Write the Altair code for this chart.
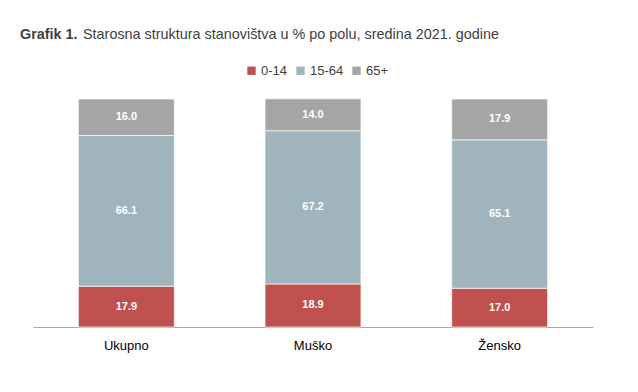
import altair as alt
import pandas as pd

categories = ["Ukupno", "Muško", "Žensko"]
groups = ["0-14", "15-64", "65+"]
v_0_14 = [17.9, 18.9, 17.0]
v_15_64 = [66.1, 67.2, 65.1]
v_65 = [16.0, 14.0, 17.9]

rows = []
for i, c in enumerate(categories):
    for g, vals, o in [("0-14", v_0_14, 0), ("15-64", v_15_64, 1), ("65+", v_65, 2)]:
        rows.append({"cat": c, "grp": g, "val": vals[i], "ord": o})
df = pd.DataFrame(rows)

colors = ["#C0504D", "#9FB4BC", "#A5A5A5"]
FONT = "Liberation Sans"

base = alt.Chart(df).transform_stack(
    stack="val", groupby=["cat"], as_=["y0", "y1"], sort=[alt.SortField("ord")]
).transform_calculate(mid="(datum.y0 + datum.y1) / 2")

x = alt.X("cat:N", sort=categories, title=None,
          scale=alt.Scale(paddingInner=0.486, paddingOuter=0.243),
          axis=alt.Axis(labelAngle=0, ticks=False, domainColor="#A6A6A6", domainWidth=1,
                        labelFont=FONT, labelFontSize=13, labelColor="#000000", labelPadding=12))
yscale = alt.Scale(domain=[0, 100], nice=False)

bars = base.mark_bar(stroke="white", strokeWidth=0.7).encode(
    x=x,
    y=alt.Y("y0:Q", scale=yscale, axis=None),
    y2="y1:Q",
    color=alt.Color("grp:N", sort=groups, scale=alt.Scale(domain=groups, range=colors),
                    legend=alt.Legend(title=None, orient="none", direction="horizontal",
                                      legendX=212, legendY=-35, symbolType="square",
                                      symbolSize=70, symbolStrokeWidth=0,
                                      labelFont=FONT, labelFontSize=13, labelColor="#404040",
                                      columnPadding=6, labelOffset=3)),
)

labels = base.mark_text(color="white", fontWeight="bold", font=FONT, fontSize=11).encode(
    x=alt.X("cat:N", sort=categories),
    y=alt.Y("mid:Q", scale=yscale),
    text=alt.Text("val:Q", format=".1f"),
)

title1 = alt.Chart(pd.DataFrame({"t": ["Grafik 1."]})).mark_text(
    align="left", baseline="middle", font=FONT, fontSize=14.4, fontWeight="bold", color="#404040"
).encode(x=alt.value(-13), y=alt.value(-64), text="t:N")
title2 = alt.Chart(pd.DataFrame({"t": ["Starosna struktura stanovištva u % po polu, sredina 2021. godine"]})).mark_text(
    align="left", baseline="middle", font=FONT, fontSize=14.4, color="#404040"
).encode(x=alt.value(50), y=alt.value(-64), text="t:N")

chart = alt.layer(bars, labels, title1, title2).properties(
    width=560, height=228, background="white",
    autosize=alt.AutoSizeParams(type="none"),
    padding={"left": 25, "top": 91, "right": 29, "bottom": 50},
).configure_view(strokeWidth=0)

chart.save("out.html", embed_options={"renderer": "svg", "actions": False})
